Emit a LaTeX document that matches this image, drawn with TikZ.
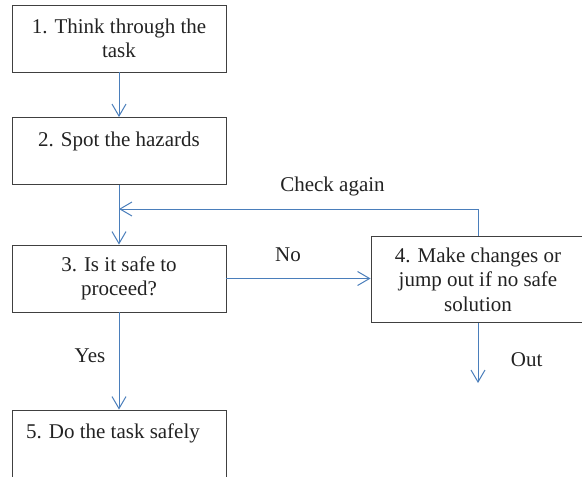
\documentclass[tikz,border=0pt]{standalone}
\usepackage{fontspec}
\setmainfont{Liberation Serif}
\usetikzlibrary{arrows.meta}
\definecolor{arrblue}{HTML}{4A7EBB}
\definecolor{boxgray}{HTML}{404040}
\definecolor{txtgray}{HTML}{222222}
\begin{document}
\begin{tikzpicture}[x=1pt,y=-1pt,
  every node/.style={text=txtgray,font=\fontsize{21}{24.5}\selectfont},
  stepbox/.style={draw=boxgray,line width=0.9pt,minimum width=214pt,minimum height=67pt,inner sep=0pt,align=center},
  arr/.style={draw=arrblue,line width=1pt,-{Straight Barb[length=12pt,width=14pt]}},
  conn/.style={draw=arrblue,line width=1pt},
  lbl/.style={anchor=base,inner sep=0pt}]
\clip (0,0) rectangle (582,477);
\node[stepbox] (b1) at (119,38.5) {1. Think through the\\task};
\node[stepbox] (b2) at (119,151) {2. Spot the hazards\\\mbox{}};
\node[stepbox] (b3) at (119,278.5) {3. Is it safe to\\proceed?};
\node[stepbox,minimum height=86pt] (b4) at (478,279.6) {4. Make changes or\\jump out if no safe\\solution};
\node[stepbox] (b5) at (119,443.5) {5. Do the task safely\hspace*{12pt}\\\mbox{}};
\coordinate (join) at (119,209);
\coordinate (out) at (478,383);
\draw[arr] (b1.south) -- (b2.north);
\draw[arr] (b2.south) -- (b3.north);
\draw[arr] (b4.north) |- (join);
\draw[arr] (b3.east) -- (b3.east -| b4.west);
\draw[arr] (b3.south) -- (b5.north);
\draw[arr] (b4.south) -- (out);
\node[lbl] (lcheck) at (332.5,191.7) {Check again};
\node[lbl] (lno) at (288,261.7) {No};
\node[lbl] (lyes) at (90,362) {Yes};
\node[lbl] (lout) at (526.7,366.7) {Out};
\end{tikzpicture}
\end{document}
